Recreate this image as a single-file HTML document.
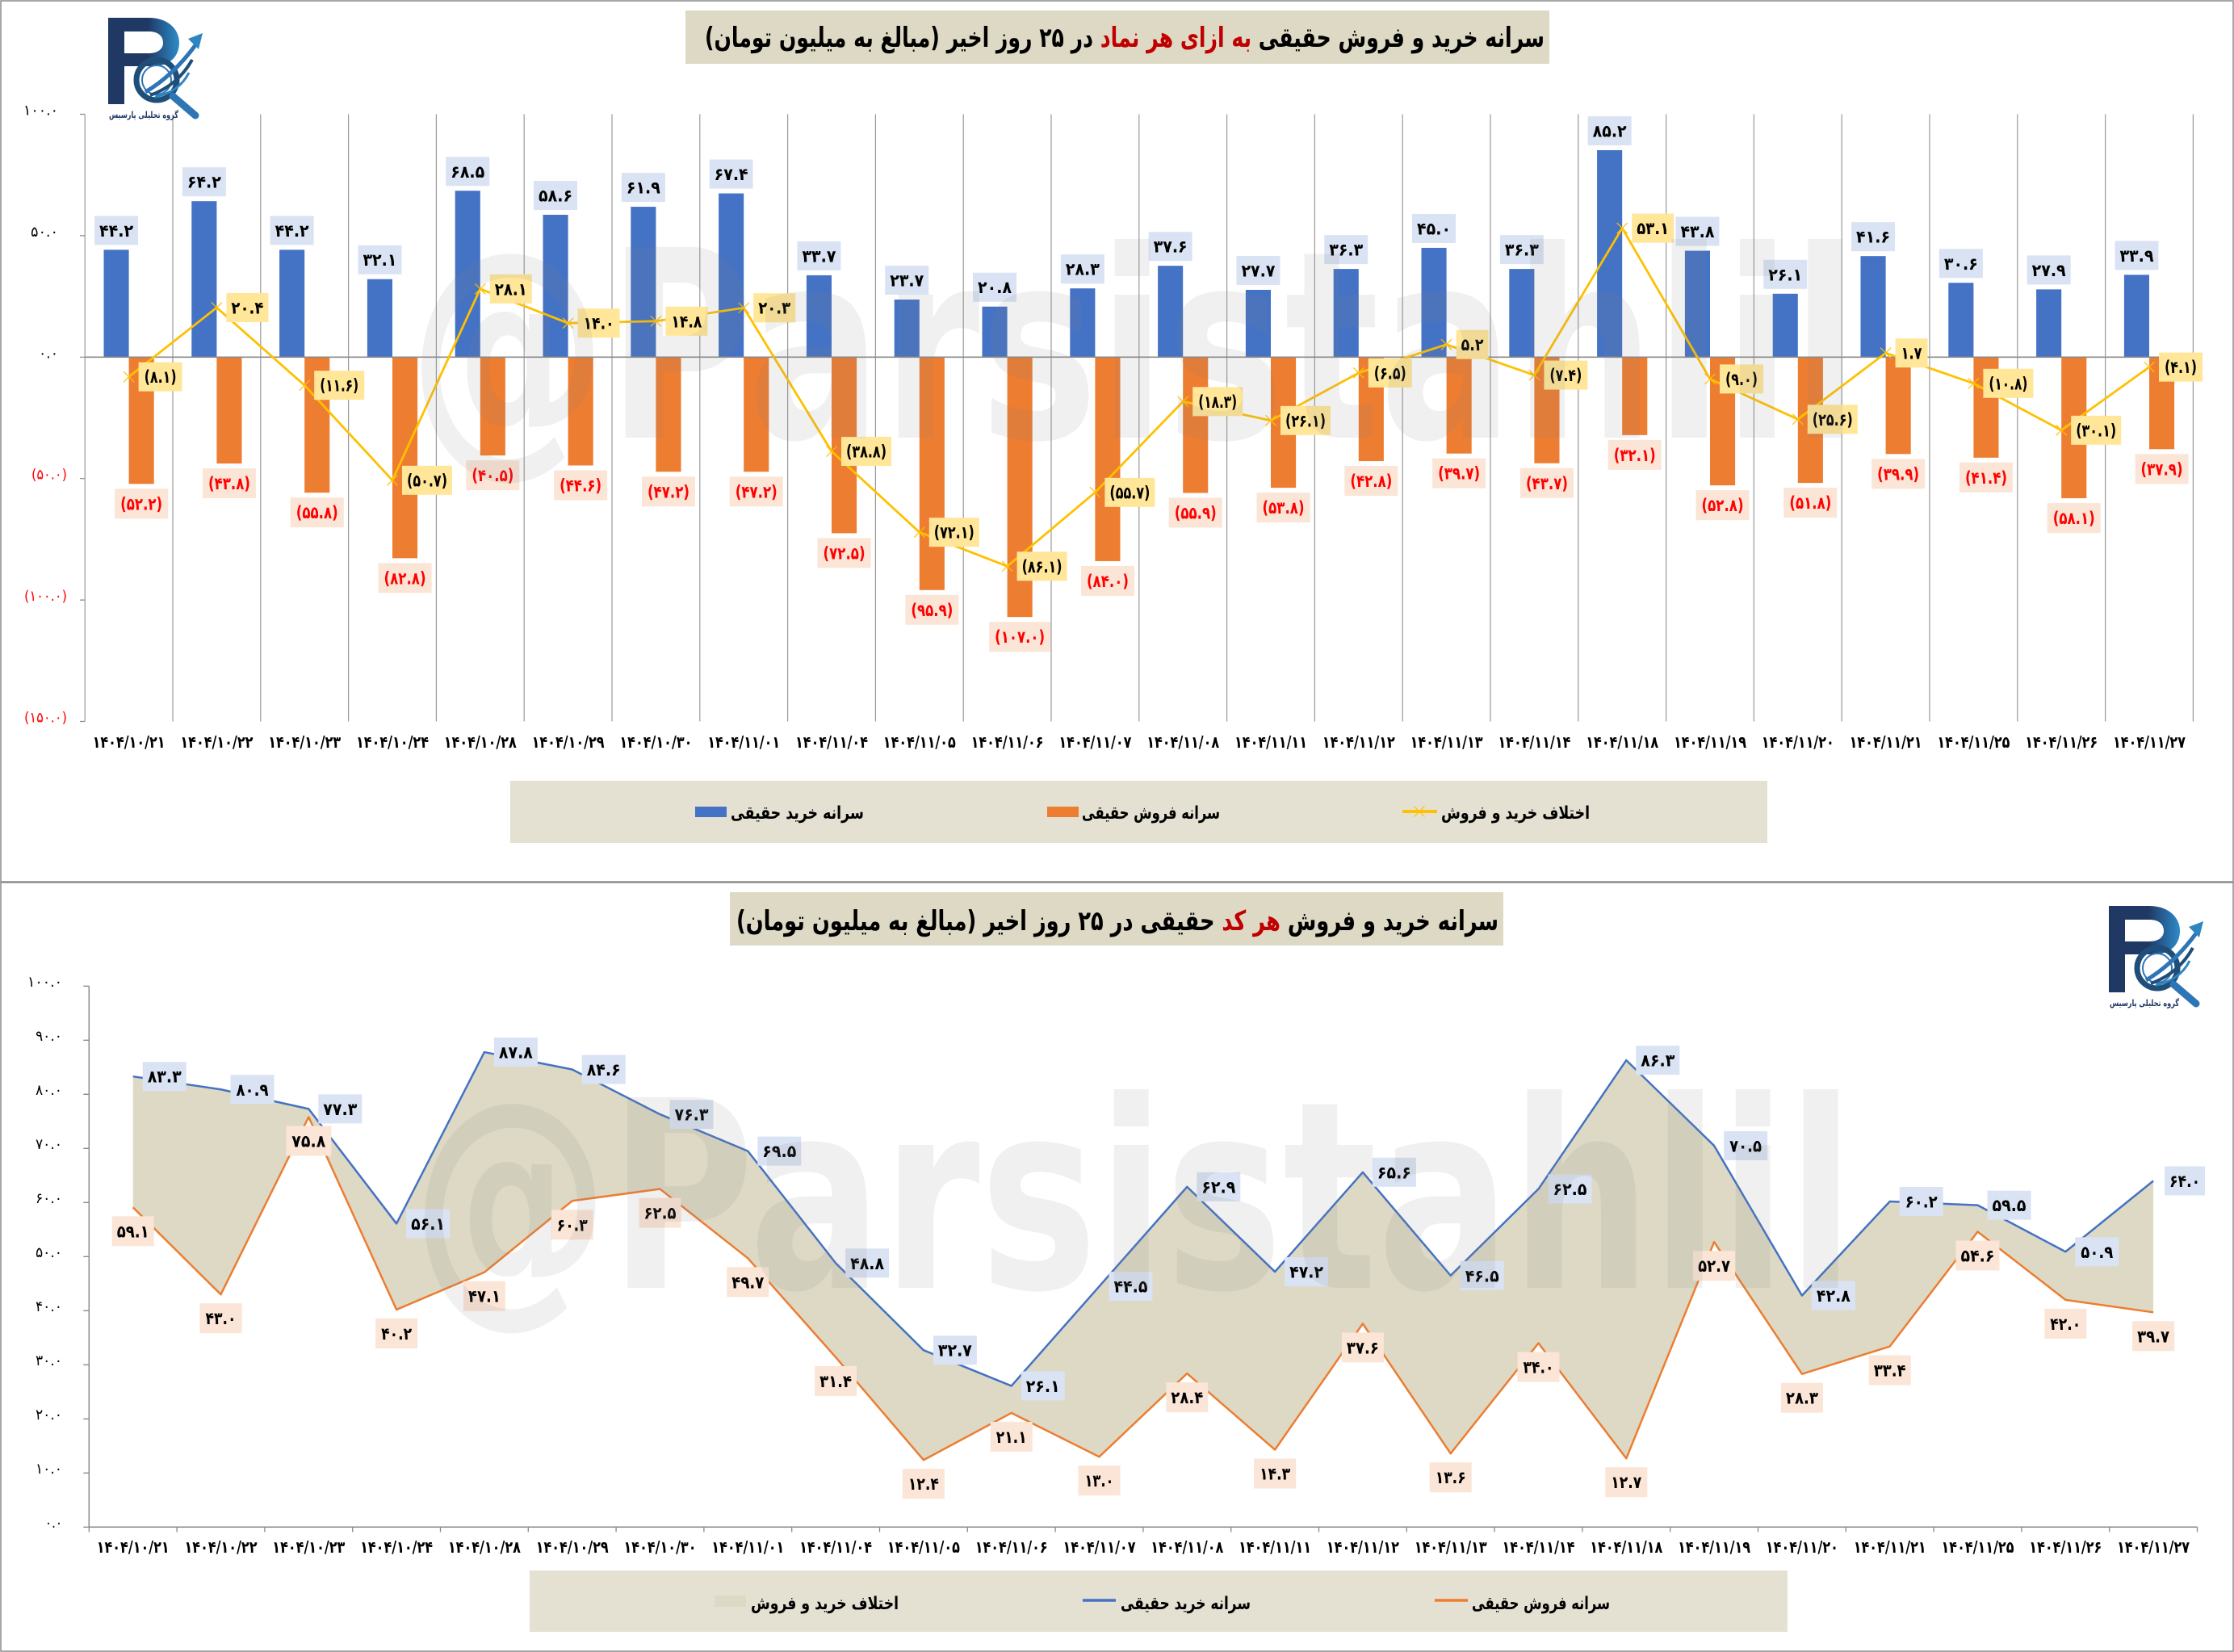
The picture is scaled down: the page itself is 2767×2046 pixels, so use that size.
<!DOCTYPE html>
<html><head><meta charset="utf-8">
<style>
html,body{margin:0;padding:0;background:#fff;}
svg{display:block;}
text{font-family:"DejaVu Sans","Liberation Sans",sans-serif;}
.dl text{font-size:21px;font-weight:bold;text-anchor:middle;}
.lb rect{fill:#DAE3F3;}
.lo rect{fill:#FBE5D6;}
.lo.r text{fill:#FF0000;}
.ly rect{fill:#FFE699;}
.ly.r text{fill:#FF0000;}
.ax{font-size:18px;}
.xl{font-size:20px;font-weight:bold;text-anchor:middle;}
.lg{font-size:22px;font-weight:bold;text-anchor:middle;}
</style></head>
<body>
<svg width="2767" height="2046" viewBox="0 0 2767 2046" xmlns="http://www.w3.org/2000/svg">
<defs>
<linearGradient id="lgP" x1="0" y1="0" x2="1" y2="0">
<stop offset="0" stop-color="#1F3864"/><stop offset="0.55" stop-color="#1F3864"/><stop offset="1" stop-color="#2E8BC9"/>
</linearGradient>
</defs>
<rect width="2767" height="2046" fill="#fff"/>
<!-- panel borders -->
<rect x="1" y="1" width="2765" height="1091" fill="none" stroke="#8a8a8a" stroke-width="1.5"/>
<rect x="1" y="1093" width="2765" height="952" fill="none" stroke="#8a8a8a" stroke-width="1.5"/>

<!-- ================= TOP CHART ================= -->
<rect x="849" y="13" width="1070" height="66" fill="#DDD9C4"/>
<text x="1393" y="58" text-anchor="middle" direction="rtl" font-size="34" font-weight="bold" textLength="1040" lengthAdjust="spacingAndGlyphs">سرانه خرید و فروش حقیقی <tspan fill="#C00000">به ازای هر نماد</tspan> در ۲۵ روز اخیر (مبالغ به میلیون تومان)</text>

<!-- gridlines -->
<path d="M105.2,141.5V893.5M214,141.5V893.5M322.8,141.5V893.5M431.6,141.5V893.5M540.4,141.5V893.5M649.2,141.5V893.5M758,141.5V893.5M866.8,141.5V893.5M975.6,141.5V893.5M1084.4,141.5V893.5M1193.2,141.5V893.5M1302,141.5V893.5M1410.8,141.5V893.5M1519.6,141.5V893.5M1628.4,141.5V893.5M1737.2,141.5V893.5M1846,141.5V893.5M1954.8,141.5V893.5M2063.6,141.5V893.5M2172.4,141.5V893.5M2281.2,141.5V893.5M2390,141.5V893.5M2498.8,141.5V893.5M2607.6,141.5V893.5M2716.4,141.5V893.5" stroke="#9a9a9a" stroke-width="1.2" fill="none"/>
<path d="M99,141.5H105.2M99,291.9H105.2M99,442.3H105.2M99,592.7H105.2M99,743.1H105.2M99,893.5H105.2" stroke="#8a8a8a" stroke-width="1.2"/>

<!-- y labels -->
<g class="ax" text-anchor="end">
<text x="72" y="142.5" textLength="43" lengthAdjust="spacingAndGlyphs">۱۰۰.۰</text>
<text x="72" y="292.9" textLength="34" lengthAdjust="spacingAndGlyphs">۵۰.۰</text>
<text x="72" y="443.3" textLength="24" lengthAdjust="spacingAndGlyphs">۰.۰</text>
<text x="83" y="593.7" fill="#FF0000" textLength="44" lengthAdjust="spacingAndGlyphs">(۵۰.۰)</text>
<text x="83" y="744.1" fill="#FF0000" textLength="53" lengthAdjust="spacingAndGlyphs">(۱۰۰.۰)</text>
<text x="83" y="894.5" fill="#FF0000" textLength="53" lengthAdjust="spacingAndGlyphs">(۱۵۰.۰)</text>
</g>

<!-- blue bars -->
<g fill="#4472C4">
<rect x="128.5" y="309.35" width="31.1" height="132.95"/>
<rect x="237.3" y="249.19" width="31.1" height="193.11"/>
<rect x="346.1" y="309.35" width="31.1" height="132.95"/>
<rect x="454.9" y="345.74" width="31.1" height="96.56"/>
<rect x="563.7" y="236.25" width="31.1" height="206.05"/>
<rect x="672.5" y="266.03" width="31.1" height="176.27"/>
<rect x="781.3" y="256.1" width="31.1" height="186.2"/>
<rect x="890.1" y="239.56" width="31.1" height="202.74"/>
<rect x="998.9" y="340.93" width="31.1" height="101.37"/>
<rect x="1107.7" y="371.01" width="31.1" height="71.29"/>
<rect x="1216.5" y="379.73" width="31.1" height="62.57"/>
<rect x="1325.3" y="357.17" width="31.1" height="85.13"/>
<rect x="1434.1" y="329.2" width="31.1" height="113.1"/>
<rect x="1542.9" y="358.98" width="31.1" height="83.32"/>
<rect x="1651.7" y="333.11" width="31.1" height="109.19"/>
<rect x="1760.5" y="306.94" width="31.1" height="135.36"/>
<rect x="1869.3" y="333.11" width="31.1" height="109.19"/>
<rect x="1978.1" y="186.02" width="31.1" height="256.28"/>
<rect x="2086.9" y="310.55" width="31.1" height="131.75"/>
<rect x="2195.7" y="363.79" width="31.1" height="78.51"/>
<rect x="2304.5" y="317.17" width="31.1" height="125.13"/>
<rect x="2413.3" y="350.26" width="31.1" height="92.04"/>
<rect x="2522.1" y="358.38" width="31.1" height="83.92"/>
<rect x="2630.9" y="340.33" width="31.1" height="101.97"/>
</g>
<!-- orange bars -->
<g fill="#ED7D31">
<rect x="159.6" y="442.3" width="31.1" height="157.02"/>
<rect x="268.4" y="442.3" width="31.1" height="131.75"/>
<rect x="377.2" y="442.3" width="31.1" height="167.85"/>
<rect x="486" y="442.3" width="31.1" height="249.06"/>
<rect x="594.8" y="442.3" width="31.1" height="121.82"/>
<rect x="703.6" y="442.3" width="31.1" height="134.16"/>
<rect x="812.4" y="442.3" width="31.1" height="141.98"/>
<rect x="921.2" y="442.3" width="31.1" height="141.98"/>
<rect x="1030" y="442.3" width="31.1" height="218.08"/>
<rect x="1138.8" y="442.3" width="31.1" height="288.47"/>
<rect x="1247.6" y="442.3" width="31.1" height="321.86"/>
<rect x="1356.4" y="442.3" width="31.1" height="252.67"/>
<rect x="1465.2" y="442.3" width="31.1" height="168.15"/>
<rect x="1574" y="442.3" width="31.1" height="161.83"/>
<rect x="1682.8" y="442.3" width="31.1" height="128.74"/>
<rect x="1791.6" y="442.3" width="31.1" height="119.42"/>
<rect x="1900.4" y="442.3" width="31.1" height="131.45"/>
<rect x="2009.2" y="442.3" width="31.1" height="96.56"/>
<rect x="2118" y="442.3" width="31.1" height="158.82"/>
<rect x="2226.8" y="442.3" width="31.1" height="155.81"/>
<rect x="2335.6" y="442.3" width="31.1" height="120.02"/>
<rect x="2444.4" y="442.3" width="31.1" height="124.53"/>
<rect x="2553.2" y="442.3" width="31.1" height="174.76"/>
<rect x="2662" y="442.3" width="31.1" height="114"/>
</g>
<!-- zero line -->
<path d="M105.2,442.3H2716.4" stroke="#8a8a8a" stroke-width="1.6"/>

<!-- diff line -->
<polyline points="159.6,466.66 268.4,380.94 377.2,477.19 486,594.81 594.8,357.78 703.6,400.19 812.4,397.78 921.2,381.24 1030,559.01 1138.8,659.18 1247.6,701.29 1356.4,609.85 1465.2,497.35 1574,520.81 1682.8,461.85 1791.6,426.66 1900.4,464.56 2009.2,282.58 2118,469.37 2226.8,519.3 2335.6,437.19 2444.4,474.79 2553.2,532.84 2662,454.63" fill="none" stroke="#FFC000" stroke-width="2.8" stroke-linejoin="round"/>
<path d="M153.1,460.16l13,13m0,-13l-13,13M261.9,374.44l13,13m0,-13l-13,13M370.7,470.69l13,13m0,-13l-13,13M479.5,588.31l13,13m0,-13l-13,13M588.3,351.28l13,13m0,-13l-13,13M697.1,393.69l13,13m0,-13l-13,13M805.9,391.28l13,13m0,-13l-13,13M914.7,374.74l13,13m0,-13l-13,13M1023.5,552.51l13,13m0,-13l-13,13M1132.3,652.68l13,13m0,-13l-13,13M1241.1,694.79l13,13m0,-13l-13,13M1349.9,603.35l13,13m0,-13l-13,13M1458.7,490.85l13,13m0,-13l-13,13M1567.5,514.31l13,13m0,-13l-13,13M1676.3,455.35l13,13m0,-13l-13,13M1785.1,420.16l13,13m0,-13l-13,13M1893.9,458.06l13,13m0,-13l-13,13M2002.7,276.08l13,13m0,-13l-13,13M2111.5,462.87l13,13m0,-13l-13,13M2220.3,512.8l13,13m0,-13l-13,13M2329.1,430.69l13,13m0,-13l-13,13M2437.9,468.29l13,13m0,-13l-13,13M2546.7,526.34l13,13m0,-13l-13,13M2655.5,448.13l13,13m0,-13l-13,13" stroke="#FFC000" stroke-width="1.2" fill="none"/>

<!-- blue labels (top) -->
<g class="dl lb">
<g transform="translate(144.05,285.35)"><rect x="-27" y="-18" width="54" height="36"/><text y="7.5" textLength="42" lengthAdjust="spacingAndGlyphs">۴۴.۲</text></g>
<g transform="translate(252.85,225.19)"><rect x="-27" y="-18" width="54" height="36"/><text y="7.5" textLength="42" lengthAdjust="spacingAndGlyphs">۶۴.۲</text></g>
<g transform="translate(361.65,285.35)"><rect x="-27" y="-18" width="54" height="36"/><text y="7.5" textLength="42" lengthAdjust="spacingAndGlyphs">۴۴.۲</text></g>
<g transform="translate(470.45,321.74)"><rect x="-27" y="-18" width="54" height="36"/><text y="7.5" textLength="42" lengthAdjust="spacingAndGlyphs">۳۲.۱</text></g>
<g transform="translate(579.25,212.25)"><rect x="-27" y="-18" width="54" height="36"/><text y="7.5" textLength="42" lengthAdjust="spacingAndGlyphs">۶۸.۵</text></g>
<g transform="translate(688.05,242.03)"><rect x="-27" y="-18" width="54" height="36"/><text y="7.5" textLength="42" lengthAdjust="spacingAndGlyphs">۵۸.۶</text></g>
<g transform="translate(796.85,232.1)"><rect x="-27" y="-18" width="54" height="36"/><text y="7.5" textLength="42" lengthAdjust="spacingAndGlyphs">۶۱.۹</text></g>
<g transform="translate(905.65,215.56)"><rect x="-27" y="-18" width="54" height="36"/><text y="7.5" textLength="42" lengthAdjust="spacingAndGlyphs">۶۷.۴</text></g>
<g transform="translate(1014.45,316.93)"><rect x="-27" y="-18" width="54" height="36"/><text y="7.5" textLength="42" lengthAdjust="spacingAndGlyphs">۳۳.۷</text></g>
<g transform="translate(1123.25,347.01)"><rect x="-27" y="-18" width="54" height="36"/><text y="7.5" textLength="42" lengthAdjust="spacingAndGlyphs">۲۳.۷</text></g>
<g transform="translate(1232.05,355.73)"><rect x="-27" y="-18" width="54" height="36"/><text y="7.5" textLength="42" lengthAdjust="spacingAndGlyphs">۲۰.۸</text></g>
<g transform="translate(1340.85,333.17)"><rect x="-27" y="-18" width="54" height="36"/><text y="7.5" textLength="42" lengthAdjust="spacingAndGlyphs">۲۸.۳</text></g>
<g transform="translate(1449.65,305.2)"><rect x="-27" y="-18" width="54" height="36"/><text y="7.5" textLength="42" lengthAdjust="spacingAndGlyphs">۳۷.۶</text></g>
<g transform="translate(1558.45,334.98)"><rect x="-27" y="-18" width="54" height="36"/><text y="7.5" textLength="42" lengthAdjust="spacingAndGlyphs">۲۷.۷</text></g>
<g transform="translate(1667.25,309.11)"><rect x="-27" y="-18" width="54" height="36"/><text y="7.5" textLength="42" lengthAdjust="spacingAndGlyphs">۳۶.۳</text></g>
<g transform="translate(1776.05,282.94)"><rect x="-27" y="-18" width="54" height="36"/><text y="7.5" textLength="42" lengthAdjust="spacingAndGlyphs">۴۵.۰</text></g>
<g transform="translate(1884.85,309.11)"><rect x="-27" y="-18" width="54" height="36"/><text y="7.5" textLength="42" lengthAdjust="spacingAndGlyphs">۳۶.۳</text></g>
<g transform="translate(1993.65,162.02)"><rect x="-27" y="-18" width="54" height="36"/><text y="7.5" textLength="42" lengthAdjust="spacingAndGlyphs">۸۵.۲</text></g>
<g transform="translate(2102.45,286.55)"><rect x="-27" y="-18" width="54" height="36"/><text y="7.5" textLength="42" lengthAdjust="spacingAndGlyphs">۴۳.۸</text></g>
<g transform="translate(2211.25,339.79)"><rect x="-27" y="-18" width="54" height="36"/><text y="7.5" textLength="42" lengthAdjust="spacingAndGlyphs">۲۶.۱</text></g>
<g transform="translate(2320.05,293.17)"><rect x="-27" y="-18" width="54" height="36"/><text y="7.5" textLength="42" lengthAdjust="spacingAndGlyphs">۴۱.۶</text></g>
<g transform="translate(2428.85,326.26)"><rect x="-27" y="-18" width="54" height="36"/><text y="7.5" textLength="42" lengthAdjust="spacingAndGlyphs">۳۰.۶</text></g>
<g transform="translate(2537.65,334.38)"><rect x="-27" y="-18" width="54" height="36"/><text y="7.5" textLength="42" lengthAdjust="spacingAndGlyphs">۲۷.۹</text></g>
<g transform="translate(2646.45,316.33)"><rect x="-27" y="-18" width="54" height="36"/><text y="7.5" textLength="42" lengthAdjust="spacingAndGlyphs">۳۳.۹</text></g>
</g>

<!-- orange labels (top) -->
<g class="dl lo r">
<g transform="translate(175.15,623.82)"><rect x="-33" y="-18.5" width="66" height="37"/><text y="7.5" textLength="52" lengthAdjust="spacingAndGlyphs">(۵۲.۲)</text></g>
<g transform="translate(283.95,598.55)"><rect x="-33" y="-18.5" width="66" height="37"/><text y="7.5" textLength="52" lengthAdjust="spacingAndGlyphs">(۴۳.۸)</text></g>
<g transform="translate(392.75,634.65)"><rect x="-33" y="-18.5" width="66" height="37"/><text y="7.5" textLength="52" lengthAdjust="spacingAndGlyphs">(۵۵.۸)</text></g>
<g transform="translate(501.55,715.86)"><rect x="-33" y="-18.5" width="66" height="37"/><text y="7.5" textLength="52" lengthAdjust="spacingAndGlyphs">(۸۲.۸)</text></g>
<g transform="translate(610.35,588.62)"><rect x="-33" y="-18.5" width="66" height="37"/><text y="7.5" textLength="52" lengthAdjust="spacingAndGlyphs">(۴۰.۵)</text></g>
<g transform="translate(719.15,600.96)"><rect x="-33" y="-18.5" width="66" height="37"/><text y="7.5" textLength="52" lengthAdjust="spacingAndGlyphs">(۴۴.۶)</text></g>
<g transform="translate(827.95,608.78)"><rect x="-33" y="-18.5" width="66" height="37"/><text y="7.5" textLength="52" lengthAdjust="spacingAndGlyphs">(۴۷.۲)</text></g>
<g transform="translate(936.75,608.78)"><rect x="-33" y="-18.5" width="66" height="37"/><text y="7.5" textLength="52" lengthAdjust="spacingAndGlyphs">(۴۷.۲)</text></g>
<g transform="translate(1045.55,684.88)"><rect x="-33" y="-18.5" width="66" height="37"/><text y="7.5" textLength="52" lengthAdjust="spacingAndGlyphs">(۷۲.۵)</text></g>
<g transform="translate(1154.35,755.27)"><rect x="-33" y="-18.5" width="66" height="37"/><text y="7.5" textLength="52" lengthAdjust="spacingAndGlyphs">(۹۵.۹)</text></g>
<g transform="translate(1263.15,788.66)"><rect x="-38" y="-18.5" width="76" height="37"/><text y="7.5" textLength="62" lengthAdjust="spacingAndGlyphs">(۱۰۷.۰)</text></g>
<g transform="translate(1371.95,719.47)"><rect x="-33" y="-18.5" width="66" height="37"/><text y="7.5" textLength="52" lengthAdjust="spacingAndGlyphs">(۸۴.۰)</text></g>
<g transform="translate(1480.75,634.95)"><rect x="-33" y="-18.5" width="66" height="37"/><text y="7.5" textLength="52" lengthAdjust="spacingAndGlyphs">(۵۵.۹)</text></g>
<g transform="translate(1589.55,628.63)"><rect x="-33" y="-18.5" width="66" height="37"/><text y="7.5" textLength="52" lengthAdjust="spacingAndGlyphs">(۵۳.۸)</text></g>
<g transform="translate(1698.35,595.54)"><rect x="-33" y="-18.5" width="66" height="37"/><text y="7.5" textLength="52" lengthAdjust="spacingAndGlyphs">(۴۲.۸)</text></g>
<g transform="translate(1807.15,586.22)"><rect x="-33" y="-18.5" width="66" height="37"/><text y="7.5" textLength="52" lengthAdjust="spacingAndGlyphs">(۳۹.۷)</text></g>
<g transform="translate(1915.95,598.25)"><rect x="-33" y="-18.5" width="66" height="37"/><text y="7.5" textLength="52" lengthAdjust="spacingAndGlyphs">(۴۳.۷)</text></g>
<g transform="translate(2024.75,563.36)"><rect x="-33" y="-18.5" width="66" height="37"/><text y="7.5" textLength="52" lengthAdjust="spacingAndGlyphs">(۳۲.۱)</text></g>
<g transform="translate(2133.55,625.62)"><rect x="-33" y="-18.5" width="66" height="37"/><text y="7.5" textLength="52" lengthAdjust="spacingAndGlyphs">(۵۲.۸)</text></g>
<g transform="translate(2242.35,622.61)"><rect x="-33" y="-18.5" width="66" height="37"/><text y="7.5" textLength="52" lengthAdjust="spacingAndGlyphs">(۵۱.۸)</text></g>
<g transform="translate(2351.15,586.82)"><rect x="-33" y="-18.5" width="66" height="37"/><text y="7.5" textLength="52" lengthAdjust="spacingAndGlyphs">(۳۹.۹)</text></g>
<g transform="translate(2459.95,591.33)"><rect x="-33" y="-18.5" width="66" height="37"/><text y="7.5" textLength="52" lengthAdjust="spacingAndGlyphs">(۴۱.۴)</text></g>
<g transform="translate(2568.75,641.56)"><rect x="-33" y="-18.5" width="66" height="37"/><text y="7.5" textLength="52" lengthAdjust="spacingAndGlyphs">(۵۸.۱)</text></g>
<g transform="translate(2677.55,580.8)"><rect x="-33" y="-18.5" width="66" height="37"/><text y="7.5" textLength="52" lengthAdjust="spacingAndGlyphs">(۳۷.۹)</text></g>
</g>

<!-- line labels (top) -->
<g class="dl ly">
<g class="r" transform="translate(198.6,466.66)"><rect x="-27" y="-18" width="54" height="36"/><text y="7.5" textLength="40" lengthAdjust="spacingAndGlyphs">(۸.۱)</text></g>
<g transform="translate(306.4,380.94)"><rect x="-26" y="-18" width="52" height="36"/><text y="7.5" textLength="40" lengthAdjust="spacingAndGlyphs">۲۰.۴</text></g>
<g class="r" transform="translate(420.2,477.19)"><rect x="-31" y="-18" width="62" height="36"/><text y="7.5" textLength="48" lengthAdjust="spacingAndGlyphs">(۱۱.۶)</text></g>
<g class="r" transform="translate(529,594.81)"><rect x="-31" y="-18" width="62" height="36"/><text y="7.5" textLength="50" lengthAdjust="spacingAndGlyphs">(۵۰.۷)</text></g>
<g transform="translate(632.8,357.78)"><rect x="-26" y="-18" width="52" height="36"/><text y="7.5" textLength="40" lengthAdjust="spacingAndGlyphs">۲۸.۱</text></g>
<g transform="translate(741.6,400.19)"><rect x="-26" y="-18" width="52" height="36"/><text y="7.5" textLength="38" lengthAdjust="spacingAndGlyphs">۱۴.۰</text></g>
<g transform="translate(850.4,397.78)"><rect x="-26" y="-18" width="52" height="36"/><text y="7.5" textLength="38" lengthAdjust="spacingAndGlyphs">۱۴.۸</text></g>
<g transform="translate(959.2,381.24)"><rect x="-26" y="-18" width="52" height="36"/><text y="7.5" textLength="40" lengthAdjust="spacingAndGlyphs">۲۰.۳</text></g>
<g class="r" transform="translate(1073,559.01)"><rect x="-31" y="-18" width="62" height="36"/><text y="7.5" textLength="50" lengthAdjust="spacingAndGlyphs">(۳۸.۸)</text></g>
<g class="r" transform="translate(1181.8,659.18)"><rect x="-31" y="-18" width="62" height="36"/><text y="7.5" textLength="50" lengthAdjust="spacingAndGlyphs">(۷۲.۱)</text></g>
<g class="r" transform="translate(1290.6,701.29)"><rect x="-31" y="-18" width="62" height="36"/><text y="7.5" textLength="50" lengthAdjust="spacingAndGlyphs">(۸۶.۱)</text></g>
<g class="r" transform="translate(1399.4,609.85)"><rect x="-31" y="-18" width="62" height="36"/><text y="7.5" textLength="50" lengthAdjust="spacingAndGlyphs">(۵۵.۷)</text></g>
<g class="r" transform="translate(1508.2,497.35)"><rect x="-31" y="-18" width="62" height="36"/><text y="7.5" textLength="48" lengthAdjust="spacingAndGlyphs">(۱۸.۳)</text></g>
<g class="r" transform="translate(1617,520.81)"><rect x="-31" y="-18" width="62" height="36"/><text y="7.5" textLength="50" lengthAdjust="spacingAndGlyphs">(۲۶.۱)</text></g>
<g class="r" transform="translate(1721.8,461.85)"><rect x="-27" y="-18" width="54" height="36"/><text y="7.5" textLength="40" lengthAdjust="spacingAndGlyphs">(۶.۵)</text></g>
<g transform="translate(1823.6,426.66)"><rect x="-20" y="-18" width="40" height="36"/><text y="7.5" textLength="28" lengthAdjust="spacingAndGlyphs">۵.۲</text></g>
<g class="r" transform="translate(1939.4,464.56)"><rect x="-27" y="-18" width="54" height="36"/><text y="7.5" textLength="40" lengthAdjust="spacingAndGlyphs">(۷.۴)</text></g>
<g transform="translate(2047.2,282.58)"><rect x="-26" y="-18" width="52" height="36"/><text y="7.5" textLength="40" lengthAdjust="spacingAndGlyphs">۵۳.۱</text></g>
<g class="r" transform="translate(2157,469.37)"><rect x="-27" y="-18" width="54" height="36"/><text y="7.5" textLength="40" lengthAdjust="spacingAndGlyphs">(۹.۰)</text></g>
<g class="r" transform="translate(2269.8,519.3)"><rect x="-31" y="-18" width="62" height="36"/><text y="7.5" textLength="50" lengthAdjust="spacingAndGlyphs">(۲۵.۶)</text></g>
<g transform="translate(2367.6,437.19)"><rect x="-20" y="-18" width="40" height="36"/><text y="7.5" textLength="26" lengthAdjust="spacingAndGlyphs">۱.۷</text></g>
<g class="r" transform="translate(2487.4,474.79)"><rect x="-31" y="-18" width="62" height="36"/><text y="7.5" textLength="48" lengthAdjust="spacingAndGlyphs">(۱۰.۸)</text></g>
<g class="r" transform="translate(2596.2,532.84)"><rect x="-31" y="-18" width="62" height="36"/><text y="7.5" textLength="50" lengthAdjust="spacingAndGlyphs">(۳۰.۱)</text></g>
<g class="r" transform="translate(2701,454.63)"><rect x="-27" y="-18" width="54" height="36"/><text y="7.5" textLength="40" lengthAdjust="spacingAndGlyphs">(۴.۱)</text></g>
</g>

<!-- x labels top -->
<g class="xl">
<text x="159.6" y="926" textLength="90" lengthAdjust="spacingAndGlyphs">۱۴۰۴/۱۰/۲۱</text>
<text x="268.4" y="926" textLength="90" lengthAdjust="spacingAndGlyphs">۱۴۰۴/۱۰/۲۲</text>
<text x="377.2" y="926" textLength="90" lengthAdjust="spacingAndGlyphs">۱۴۰۴/۱۰/۲۳</text>
<text x="486" y="926" textLength="90" lengthAdjust="spacingAndGlyphs">۱۴۰۴/۱۰/۲۴</text>
<text x="594.8" y="926" textLength="90" lengthAdjust="spacingAndGlyphs">۱۴۰۴/۱۰/۲۸</text>
<text x="703.6" y="926" textLength="90" lengthAdjust="spacingAndGlyphs">۱۴۰۴/۱۰/۲۹</text>
<text x="812.4" y="926" textLength="90" lengthAdjust="spacingAndGlyphs">۱۴۰۴/۱۰/۳۰</text>
<text x="921.2" y="926" textLength="90" lengthAdjust="spacingAndGlyphs">۱۴۰۴/۱۱/۰۱</text>
<text x="1030" y="926" textLength="90" lengthAdjust="spacingAndGlyphs">۱۴۰۴/۱۱/۰۴</text>
<text x="1138.8" y="926" textLength="90" lengthAdjust="spacingAndGlyphs">۱۴۰۴/۱۱/۰۵</text>
<text x="1247.6" y="926" textLength="90" lengthAdjust="spacingAndGlyphs">۱۴۰۴/۱۱/۰۶</text>
<text x="1356.4" y="926" textLength="90" lengthAdjust="spacingAndGlyphs">۱۴۰۴/۱۱/۰۷</text>
<text x="1465.2" y="926" textLength="90" lengthAdjust="spacingAndGlyphs">۱۴۰۴/۱۱/۰۸</text>
<text x="1574" y="926" textLength="90" lengthAdjust="spacingAndGlyphs">۱۴۰۴/۱۱/۱۱</text>
<text x="1682.8" y="926" textLength="90" lengthAdjust="spacingAndGlyphs">۱۴۰۴/۱۱/۱۲</text>
<text x="1791.6" y="926" textLength="90" lengthAdjust="spacingAndGlyphs">۱۴۰۴/۱۱/۱۳</text>
<text x="1900.4" y="926" textLength="90" lengthAdjust="spacingAndGlyphs">۱۴۰۴/۱۱/۱۴</text>
<text x="2009.2" y="926" textLength="90" lengthAdjust="spacingAndGlyphs">۱۴۰۴/۱۱/۱۸</text>
<text x="2118" y="926" textLength="90" lengthAdjust="spacingAndGlyphs">۱۴۰۴/۱۱/۱۹</text>
<text x="2226.8" y="926" textLength="90" lengthAdjust="spacingAndGlyphs">۱۴۰۴/۱۱/۲۰</text>
<text x="2335.6" y="926" textLength="90" lengthAdjust="spacingAndGlyphs">۱۴۰۴/۱۱/۲۱</text>
<text x="2444.4" y="926" textLength="90" lengthAdjust="spacingAndGlyphs">۱۴۰۴/۱۱/۲۵</text>
<text x="2553.2" y="926" textLength="90" lengthAdjust="spacingAndGlyphs">۱۴۰۴/۱۱/۲۶</text>
<text x="2662" y="926" textLength="90" lengthAdjust="spacingAndGlyphs">۱۴۰۴/۱۱/۲۷</text>
</g>

<!-- legend top -->
<rect x="632" y="967" width="1557" height="77" fill="#E4E1D2"/>
<rect x="861" y="999" width="39" height="13" fill="#4472C4"/>
<text class="lg" x="987.5" y="1014" direction="rtl" textLength="165" lengthAdjust="spacingAndGlyphs">سرانه خرید حقیقی</text>
<rect x="1297" y="999" width="39" height="13" fill="#ED7D31"/>
<text class="lg" x="1425.5" y="1014" direction="rtl" textLength="171" lengthAdjust="spacingAndGlyphs">سرانه فروش حقیقی</text>
<path d="M1737,1005H1780" stroke="#FFC000" stroke-width="4"/>
<path d="M1751.5,998.5l13,13m0,-13l-13,13" stroke="#FFC000" stroke-width="1.2"/>
<text class="lg" x="1877" y="1014" direction="rtl" textLength="184" lengthAdjust="spacingAndGlyphs">اختلاف خرید و فروش</text>

<!-- watermark top -->
<text x="506" y="542" font-family="'Liberation Sans',sans-serif" font-weight="bold" font-size="324" fill="#808080" fill-opacity="0.12" textLength="1797" lengthAdjust="spacingAndGlyphs">@Parsistahlil</text>

<!-- logo top -->
<g transform="translate(134,22)">
<rect x="0" y="0" width="20" height="107" fill="#1F3864"/>
<path d="M0,0H50C74,0 88,14 88,31C88,48 76,60 55,60H20V44H50C61,44 68,39 68,31C68,22 61,17 50,17H0Z" fill="url(#lgP)"/>
<circle cx="60" cy="77" r="25" fill="none" stroke="#1F4E79" stroke-width="7"/>
<circle cx="60" cy="77" r="18" fill="#fff" stroke="#2E75B6" stroke-width="2"/>
<path d="M80,97L108,121" stroke="#2E75B6" stroke-width="9" stroke-linecap="round"/>
<path d="M46,92Q80,72 108,34" stroke="#2E75B6" stroke-width="5" fill="none"/>
<path d="M52,96Q86,84 104,52" stroke="#1F4E79" stroke-width="4" fill="none"/>
<path d="M58,98Q88,92 100,68" stroke="#2E86C1" stroke-width="3" fill="none"/>
<polygon points="117,19 99,26 112,39" fill="#2E86C1"/>
<text x="44" y="124" text-anchor="middle" direction="rtl" font-size="11" font-weight="bold" fill="#1F3864" textLength="86" lengthAdjust="spacingAndGlyphs">گروه تحلیلی پارسیس</text>
</g>

<!-- ================= BOTTOM CHART ================= -->
<rect x="904" y="1105" width="958" height="66" fill="#DDD9C4"/>
<text x="1384" y="1152" text-anchor="middle" direction="rtl" font-size="34" font-weight="bold" textLength="944" lengthAdjust="spacingAndGlyphs">سرانه خرید و فروش <tspan fill="#C00000">هر کد</tspan> حقیقی در ۲۵ روز اخیر (مبالغ به میلیون تومان)</text>

<!-- area -->
<polygon points="164.7,1333.19 273.5,1349.27 382.3,1373.39 491.1,1515.43 599.9,1303.04 708.7,1324.48 817.5,1380.09 926.3,1425.65 1035.1,1564.34 1143.9,1672.21 1252.7,1716.43 1361.5,1593.15 1470.3,1469.87 1579.1,1575.06 1687.9,1451.78 1796.7,1579.75 1905.5,1472.55 2014.3,1313.09 2123.1,1418.95 2231.9,1604.54 2340.7,1487.96 2449.5,1492.65 2558.3,1550.27 2667.1,1462.5 2667.1,1625.31 2558.3,1609.9 2449.5,1525.48 2340.7,1667.52 2231.9,1701.69 2123.1,1538.21 2014.3,1806.21 1905.5,1663.5 1796.7,1800.18 1687.9,1639.38 1579.1,1795.49 1470.3,1701.02 1361.5,1804.2 1252.7,1749.93 1143.9,1808.22 1035.1,1680.92 926.3,1558.31 817.5,1472.55 708.7,1487.29 599.9,1575.73 491.1,1621.96 382.3,1383.44 273.5,1603.2 164.7,1495.33" fill="#DDD9C4"/>

<!-- axes -->
<path d="M110.3,1221.3V1891.3H2721.5" stroke="#8a8a8a" stroke-width="1.5" fill="none"/>
<path d="M103.3,1221.3H110.3M103.3,1288.3H110.3M103.3,1355.3H110.3M103.3,1422.3H110.3M103.3,1489.3H110.3M103.3,1556.3H110.3M103.3,1623.3H110.3M103.3,1690.3H110.3M103.3,1757.3H110.3M103.3,1824.3H110.3M103.3,1891.3H110.3" stroke="#8a8a8a" stroke-width="1.3"/>
<path d="M110.3,1891.3V1897.5M219.1,1891.3V1897.5M327.9,1891.3V1897.5M436.7,1891.3V1897.5M545.5,1891.3V1897.5M654.3,1891.3V1897.5M763.1,1891.3V1897.5M871.9,1891.3V1897.5M980.7,1891.3V1897.5M1089.5,1891.3V1897.5M1198.3,1891.3V1897.5M1307.1,1891.3V1897.5M1415.9,1891.3V1897.5M1524.7,1891.3V1897.5M1633.5,1891.3V1897.5M1742.3,1891.3V1897.5M1851.1,1891.3V1897.5M1959.9,1891.3V1897.5M2068.7,1891.3V1897.5M2177.5,1891.3V1897.5M2286.3,1891.3V1897.5M2395.1,1891.3V1897.5M2503.9,1891.3V1897.5M2612.7,1891.3V1897.5M2721.5,1891.3V1897.5" stroke="#8a8a8a" stroke-width="1.3"/>

<g class="ax" text-anchor="end">
<text x="77" y="1222" textLength="43" lengthAdjust="spacingAndGlyphs">۱۰۰.۰</text>
<text x="77" y="1289" textLength="33" lengthAdjust="spacingAndGlyphs">۹۰.۰</text>
<text x="77" y="1356" textLength="33" lengthAdjust="spacingAndGlyphs">۸۰.۰</text>
<text x="77" y="1423" textLength="33" lengthAdjust="spacingAndGlyphs">۷۰.۰</text>
<text x="77" y="1490" textLength="33" lengthAdjust="spacingAndGlyphs">۶۰.۰</text>
<text x="77" y="1557" textLength="33" lengthAdjust="spacingAndGlyphs">۵۰.۰</text>
<text x="77" y="1624" textLength="33" lengthAdjust="spacingAndGlyphs">۴۰.۰</text>
<text x="77" y="1691" textLength="33" lengthAdjust="spacingAndGlyphs">۳۰.۰</text>
<text x="77" y="1758" textLength="33" lengthAdjust="spacingAndGlyphs">۲۰.۰</text>
<text x="77" y="1825" textLength="33" lengthAdjust="spacingAndGlyphs">۱۰.۰</text>
<text x="77" y="1892" textLength="21" lengthAdjust="spacingAndGlyphs">۰.۰</text>
</g>

<!-- lines -->
<polyline points="164.7,1495.33 273.5,1603.2 382.3,1383.44 491.1,1621.96 599.9,1575.73 708.7,1487.29 817.5,1472.55 926.3,1558.31 1035.1,1680.92 1143.9,1808.22 1252.7,1749.93 1361.5,1804.2 1470.3,1701.02 1579.1,1795.49 1687.9,1639.38 1796.7,1800.18 1905.5,1663.5 2014.3,1806.21 2123.1,1538.21 2231.9,1701.69 2340.7,1667.52 2449.5,1525.48 2558.3,1609.9 2667.1,1625.31" fill="none" stroke="#ED7D31" stroke-width="2.5" stroke-linejoin="round"/>
<polyline points="164.7,1333.19 273.5,1349.27 382.3,1373.39 491.1,1515.43 599.9,1303.04 708.7,1324.48 817.5,1380.09 926.3,1425.65 1035.1,1564.34 1143.9,1672.21 1252.7,1716.43 1361.5,1593.15 1470.3,1469.87 1579.1,1575.06 1687.9,1451.78 1796.7,1579.75 1905.5,1472.55 2014.3,1313.09 2123.1,1418.95 2231.9,1604.54 2340.7,1487.96 2449.5,1492.65 2558.3,1550.27 2667.1,1462.5" fill="none" stroke="#4472C4" stroke-width="2.5" stroke-linejoin="round"/>

<!-- blue labels bottom -->
<g class="dl lb">
<g transform="translate(203.7,1333.19)"><rect x="-27" y="-18" width="54" height="36"/><text y="7.5" textLength="42" lengthAdjust="spacingAndGlyphs">۸۳.۳</text></g>
<g transform="translate(312.5,1349.27)"><rect x="-27" y="-18" width="54" height="36"/><text y="7.5" textLength="40" lengthAdjust="spacingAndGlyphs">۸۰.۹</text></g>
<g transform="translate(421.3,1373.39)"><rect x="-27" y="-18" width="54" height="36"/><text y="7.5" textLength="42" lengthAdjust="spacingAndGlyphs">۷۷.۳</text></g>
<g transform="translate(530.1,1515.43)"><rect x="-27" y="-18" width="54" height="36"/><text y="7.5" textLength="42" lengthAdjust="spacingAndGlyphs">۵۶.۱</text></g>
<g transform="translate(638.9,1303.04)"><rect x="-27" y="-18" width="54" height="36"/><text y="7.5" textLength="42" lengthAdjust="spacingAndGlyphs">۸۷.۸</text></g>
<g transform="translate(747.7,1324.48)"><rect x="-27" y="-18" width="54" height="36"/><text y="7.5" textLength="42" lengthAdjust="spacingAndGlyphs">۸۴.۶</text></g>
<g transform="translate(856.5,1380.09)"><rect x="-27" y="-18" width="54" height="36"/><text y="7.5" textLength="42" lengthAdjust="spacingAndGlyphs">۷۶.۳</text></g>
<g transform="translate(965.3,1425.65)"><rect x="-27" y="-18" width="54" height="36"/><text y="7.5" textLength="42" lengthAdjust="spacingAndGlyphs">۶۹.۵</text></g>
<g transform="translate(1074.1,1564.34)"><rect x="-27" y="-18" width="54" height="36"/><text y="7.5" textLength="42" lengthAdjust="spacingAndGlyphs">۴۸.۸</text></g>
<g transform="translate(1182.9,1672.21)"><rect x="-27" y="-18" width="54" height="36"/><text y="7.5" textLength="42" lengthAdjust="spacingAndGlyphs">۳۲.۷</text></g>
<g transform="translate(1291.7,1716.43)"><rect x="-27" y="-18" width="54" height="36"/><text y="7.5" textLength="42" lengthAdjust="spacingAndGlyphs">۲۶.۱</text></g>
<g transform="translate(1400.5,1593.15)"><rect x="-27" y="-18" width="54" height="36"/><text y="7.5" textLength="42" lengthAdjust="spacingAndGlyphs">۴۴.۵</text></g>
<g transform="translate(1509.3,1469.87)"><rect x="-27" y="-18" width="54" height="36"/><text y="7.5" textLength="42" lengthAdjust="spacingAndGlyphs">۶۲.۹</text></g>
<g transform="translate(1618.1,1575.06)"><rect x="-27" y="-18" width="54" height="36"/><text y="7.5" textLength="42" lengthAdjust="spacingAndGlyphs">۴۷.۲</text></g>
<g transform="translate(1726.9,1451.78)"><rect x="-27" y="-18" width="54" height="36"/><text y="7.5" textLength="42" lengthAdjust="spacingAndGlyphs">۶۵.۶</text></g>
<g transform="translate(1835.7,1579.75)"><rect x="-27" y="-18" width="54" height="36"/><text y="7.5" textLength="42" lengthAdjust="spacingAndGlyphs">۴۶.۵</text></g>
<g transform="translate(1944.5,1472.55)"><rect x="-27" y="-18" width="54" height="36"/><text y="7.5" textLength="42" lengthAdjust="spacingAndGlyphs">۶۲.۵</text></g>
<g transform="translate(2053.3,1313.09)"><rect x="-27" y="-18" width="54" height="36"/><text y="7.5" textLength="42" lengthAdjust="spacingAndGlyphs">۸۶.۳</text></g>
<g transform="translate(2162.1,1418.95)"><rect x="-27" y="-18" width="54" height="36"/><text y="7.5" textLength="40" lengthAdjust="spacingAndGlyphs">۷۰.۵</text></g>
<g transform="translate(2270.9,1604.54)"><rect x="-27" y="-18" width="54" height="36"/><text y="7.5" textLength="42" lengthAdjust="spacingAndGlyphs">۴۲.۸</text></g>
<g transform="translate(2379.7,1487.96)"><rect x="-27" y="-18" width="54" height="36"/><text y="7.5" textLength="40" lengthAdjust="spacingAndGlyphs">۶۰.۲</text></g>
<g transform="translate(2488.5,1492.65)"><rect x="-27" y="-18" width="54" height="36"/><text y="7.5" textLength="42" lengthAdjust="spacingAndGlyphs">۵۹.۵</text></g>
<g transform="translate(2597.3,1550.27)"><rect x="-27" y="-18" width="54" height="36"/><text y="7.5" textLength="40" lengthAdjust="spacingAndGlyphs">۵۰.۹</text></g>
<g transform="translate(2706.1,1462.5)"><rect x="-25" y="-18" width="50" height="36"/><text y="7.5" textLength="38" lengthAdjust="spacingAndGlyphs">۶۴.۰</text></g>
</g>

<!-- orange labels bottom -->
<g class="dl lo">
<g transform="translate(164.7,1524.83)"><rect x="-26" y="-18.5" width="52" height="37"/><text y="7.5" textLength="40" lengthAdjust="spacingAndGlyphs">۵۹.۱</text></g>
<g transform="translate(273.5,1632.7)"><rect x="-26" y="-18.5" width="52" height="37"/><text y="7.5" textLength="38" lengthAdjust="spacingAndGlyphs">۴۳.۰</text></g>
<g transform="translate(382.3,1412.94)"><rect x="-28" y="-18.5" width="56" height="37"/><text y="7.5" textLength="42" lengthAdjust="spacingAndGlyphs">۷۵.۸</text></g>
<g transform="translate(491.1,1651.46)"><rect x="-26" y="-18.5" width="52" height="37"/><text y="7.5" textLength="38" lengthAdjust="spacingAndGlyphs">۴۰.۲</text></g>
<g transform="translate(599.9,1605.23)"><rect x="-26" y="-18.5" width="52" height="37"/><text y="7.5" textLength="40" lengthAdjust="spacingAndGlyphs">۴۷.۱</text></g>
<g transform="translate(708.7,1516.79)"><rect x="-26" y="-18.5" width="52" height="37"/><text y="7.5" textLength="38" lengthAdjust="spacingAndGlyphs">۶۰.۳</text></g>
<g transform="translate(817.5,1502.05)"><rect x="-26" y="-18.5" width="52" height="37"/><text y="7.5" textLength="40" lengthAdjust="spacingAndGlyphs">۶۲.۵</text></g>
<g transform="translate(926.3,1587.81)"><rect x="-26" y="-18.5" width="52" height="37"/><text y="7.5" textLength="40" lengthAdjust="spacingAndGlyphs">۴۹.۷</text></g>
<g transform="translate(1035.1,1710.42)"><rect x="-26" y="-18.5" width="52" height="37"/><text y="7.5" textLength="40" lengthAdjust="spacingAndGlyphs">۳۱.۴</text></g>
<g transform="translate(1143.9,1837.72)"><rect x="-26" y="-18.5" width="52" height="37"/><text y="7.5" textLength="38" lengthAdjust="spacingAndGlyphs">۱۲.۴</text></g>
<g transform="translate(1252.7,1779.43)"><rect x="-26" y="-18.5" width="52" height="37"/><text y="7.5" textLength="38" lengthAdjust="spacingAndGlyphs">۲۱.۱</text></g>
<g transform="translate(1361.5,1833.7)"><rect x="-26" y="-18.5" width="52" height="37"/><text y="7.5" textLength="36" lengthAdjust="spacingAndGlyphs">۱۳.۰</text></g>
<g transform="translate(1470.3,1730.52)"><rect x="-26" y="-18.5" width="52" height="37"/><text y="7.5" textLength="40" lengthAdjust="spacingAndGlyphs">۲۸.۴</text></g>
<g transform="translate(1579.1,1824.99)"><rect x="-26" y="-18.5" width="52" height="37"/><text y="7.5" textLength="38" lengthAdjust="spacingAndGlyphs">۱۴.۳</text></g>
<g transform="translate(1687.9,1668.88)"><rect x="-26" y="-18.5" width="52" height="37"/><text y="7.5" textLength="40" lengthAdjust="spacingAndGlyphs">۳۷.۶</text></g>
<g transform="translate(1796.7,1829.68)"><rect x="-26" y="-18.5" width="52" height="37"/><text y="7.5" textLength="38" lengthAdjust="spacingAndGlyphs">۱۳.۶</text></g>
<g transform="translate(1905.5,1693)"><rect x="-26" y="-18.5" width="52" height="37"/><text y="7.5" textLength="38" lengthAdjust="spacingAndGlyphs">۳۴.۰</text></g>
<g transform="translate(2014.3,1835.71)"><rect x="-26" y="-18.5" width="52" height="37"/><text y="7.5" textLength="38" lengthAdjust="spacingAndGlyphs">۱۲.۷</text></g>
<g transform="translate(2123.1,1567.71)"><rect x="-26" y="-18.5" width="52" height="37"/><text y="7.5" textLength="40" lengthAdjust="spacingAndGlyphs">۵۲.۷</text></g>
<g transform="translate(2231.9,1731.19)"><rect x="-26" y="-18.5" width="52" height="37"/><text y="7.5" textLength="40" lengthAdjust="spacingAndGlyphs">۲۸.۳</text></g>
<g transform="translate(2340.7,1697.02)"><rect x="-26" y="-18.5" width="52" height="37"/><text y="7.5" textLength="40" lengthAdjust="spacingAndGlyphs">۳۳.۴</text></g>
<g transform="translate(2449.5,1554.98)"><rect x="-27" y="-18.5" width="54" height="37"/><text y="7.5" textLength="42" lengthAdjust="spacingAndGlyphs">۵۴.۶</text></g>
<g transform="translate(2558.3,1639.4)"><rect x="-26" y="-18.5" width="52" height="37"/><text y="7.5" textLength="38" lengthAdjust="spacingAndGlyphs">۴۲.۰</text></g>
<g transform="translate(2667.1,1654.81)"><rect x="-26" y="-18.5" width="52" height="37"/><text y="7.5" textLength="40" lengthAdjust="spacingAndGlyphs">۳۹.۷</text></g>
</g>

<!-- x labels bottom -->
<g class="xl">
<text x="164.7" y="1923" textLength="90" lengthAdjust="spacingAndGlyphs">۱۴۰۴/۱۰/۲۱</text>
<text x="273.5" y="1923" textLength="90" lengthAdjust="spacingAndGlyphs">۱۴۰۴/۱۰/۲۲</text>
<text x="382.3" y="1923" textLength="90" lengthAdjust="spacingAndGlyphs">۱۴۰۴/۱۰/۲۳</text>
<text x="491.1" y="1923" textLength="90" lengthAdjust="spacingAndGlyphs">۱۴۰۴/۱۰/۲۴</text>
<text x="599.9" y="1923" textLength="90" lengthAdjust="spacingAndGlyphs">۱۴۰۴/۱۰/۲۸</text>
<text x="708.7" y="1923" textLength="90" lengthAdjust="spacingAndGlyphs">۱۴۰۴/۱۰/۲۹</text>
<text x="817.5" y="1923" textLength="90" lengthAdjust="spacingAndGlyphs">۱۴۰۴/۱۰/۳۰</text>
<text x="926.3" y="1923" textLength="90" lengthAdjust="spacingAndGlyphs">۱۴۰۴/۱۱/۰۱</text>
<text x="1035.1" y="1923" textLength="90" lengthAdjust="spacingAndGlyphs">۱۴۰۴/۱۱/۰۴</text>
<text x="1143.9" y="1923" textLength="90" lengthAdjust="spacingAndGlyphs">۱۴۰۴/۱۱/۰۵</text>
<text x="1252.7" y="1923" textLength="90" lengthAdjust="spacingAndGlyphs">۱۴۰۴/۱۱/۰۶</text>
<text x="1361.5" y="1923" textLength="90" lengthAdjust="spacingAndGlyphs">۱۴۰۴/۱۱/۰۷</text>
<text x="1470.3" y="1923" textLength="90" lengthAdjust="spacingAndGlyphs">۱۴۰۴/۱۱/۰۸</text>
<text x="1579.1" y="1923" textLength="90" lengthAdjust="spacingAndGlyphs">۱۴۰۴/۱۱/۱۱</text>
<text x="1687.9" y="1923" textLength="90" lengthAdjust="spacingAndGlyphs">۱۴۰۴/۱۱/۱۲</text>
<text x="1796.7" y="1923" textLength="90" lengthAdjust="spacingAndGlyphs">۱۴۰۴/۱۱/۱۳</text>
<text x="1905.5" y="1923" textLength="90" lengthAdjust="spacingAndGlyphs">۱۴۰۴/۱۱/۱۴</text>
<text x="2014.3" y="1923" textLength="90" lengthAdjust="spacingAndGlyphs">۱۴۰۴/۱۱/۱۸</text>
<text x="2123.1" y="1923" textLength="90" lengthAdjust="spacingAndGlyphs">۱۴۰۴/۱۱/۱۹</text>
<text x="2231.9" y="1923" textLength="90" lengthAdjust="spacingAndGlyphs">۱۴۰۴/۱۱/۲۰</text>
<text x="2340.7" y="1923" textLength="90" lengthAdjust="spacingAndGlyphs">۱۴۰۴/۱۱/۲۱</text>
<text x="2449.5" y="1923" textLength="90" lengthAdjust="spacingAndGlyphs">۱۴۰۴/۱۱/۲۵</text>
<text x="2558.3" y="1923" textLength="90" lengthAdjust="spacingAndGlyphs">۱۴۰۴/۱۱/۲۶</text>
<text x="2667.1" y="1923" textLength="90" lengthAdjust="spacingAndGlyphs">۱۴۰۴/۱۱/۲۷</text>
</g>

<!-- legend bottom -->
<rect x="656" y="1945" width="1558" height="76" fill="#E4E1D2"/>
<rect x="885" y="1976" width="39" height="14" fill="#DDD9C4"/>
<text class="lg" x="1021.5" y="1993" direction="rtl" textLength="183" lengthAdjust="spacingAndGlyphs">اختلاف خرید و فروش</text>
<path d="M1341,1982H1382" stroke="#4472C4" stroke-width="3.5"/>
<text class="lg" x="1468.5" y="1993" direction="rtl" textLength="161" lengthAdjust="spacingAndGlyphs">سرانه خرید حقیقی</text>
<path d="M1777,1982H1818" stroke="#ED7D31" stroke-width="3.5"/>
<text class="lg" x="1908.5" y="1993" direction="rtl" textLength="171" lengthAdjust="spacingAndGlyphs">سرانه فروش حقیقی</text>

<!-- watermark bottom -->
<text x="510" y="1595" font-family="'Liberation Sans',sans-serif" font-weight="bold" font-size="324" fill="#808080" fill-opacity="0.12" textLength="1787" lengthAdjust="spacingAndGlyphs">@Parsistahlil</text>

<!-- logo bottom -->
<g transform="translate(2612,1122)">
<rect x="0" y="0" width="20" height="107" fill="#1F3864"/>
<path d="M0,0H50C74,0 88,14 88,31C88,48 76,60 55,60H20V44H50C61,44 68,39 68,31C68,22 61,17 50,17H0Z" fill="url(#lgP)"/>
<circle cx="60" cy="77" r="25" fill="none" stroke="#1F4E79" stroke-width="7"/>
<circle cx="60" cy="77" r="18" fill="#fff" stroke="#2E75B6" stroke-width="2"/>
<path d="M80,97L108,121" stroke="#2E75B6" stroke-width="9" stroke-linecap="round"/>
<path d="M46,92Q80,72 108,34" stroke="#2E75B6" stroke-width="5" fill="none"/>
<path d="M52,96Q86,84 104,52" stroke="#1F4E79" stroke-width="4" fill="none"/>
<path d="M58,98Q88,92 100,68" stroke="#2E86C1" stroke-width="3" fill="none"/>
<polygon points="117,19 99,26 112,39" fill="#2E86C1"/>
<text x="44" y="124" text-anchor="middle" direction="rtl" font-size="11" font-weight="bold" fill="#1F3864" textLength="86" lengthAdjust="spacingAndGlyphs">گروه تحلیلی پارسیس</text>
</g>
</svg>
</body></html>
